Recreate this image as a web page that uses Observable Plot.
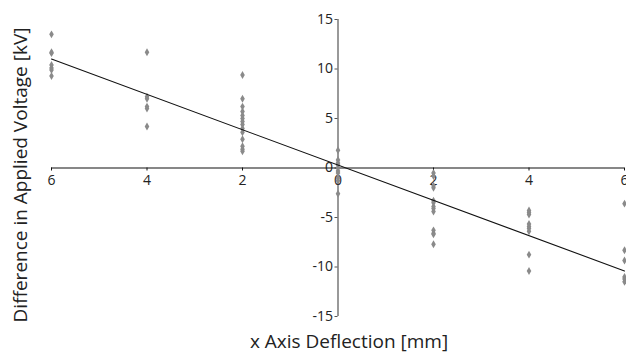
<!DOCTYPE html>
<html>
<head>
<meta charset="utf-8">
<script src="https://cdn.jsdelivr.net/npm/d3@7"></script>
<script src="https://cdn.jsdelivr.net/npm/@observablehq/plot@0.6"></script>
<style>
  html, body { margin: 0; padding: 0; background: #fff; }
  #chart svg { display: block; }
</style>
</head>
<body>
<div id="chart"></div>
<script>
// Data
const deflections = [-6, -4, -2, 0, 2, 4, 6];
const voltM6 = [13.5, 11.7, 11.6, 10.4, 10.1, 9.9, 9.3];
const voltM4 = [11.7, 7.2, 7.0, 6.2, 6.0, 4.2];
const voltM2 = [9.4, 7.0, 6.2, 5.7, 5.3, 5.0, 4.7, 4.4, 4.0, 3.6, 2.9, 2.2, 1.9, 1.7];
const volt0 = [1.8, 0.8, 0.5, 0.3, 0.0, -0.3, -0.5, -1.0, -1.3, -2.6];
const voltP2 = [-0.5, -0.8, -1.8, -2.0, -3.3, -3.5, -3.9, -4.1, -4.4, -6.3, -6.6, -6.7, -7.7];
const voltP4 = [-4.3, -4.5, -4.7, -5.65, -5.9, -6.1, -6.4, -8.75, -10.4];
const voltP6 = [-3.6, -8.3, -9.35, -11.0, -11.2, -11.5];
const fitX = [-6, 6];
const fitY = [11.0, -10.4];
const xTicks = [-6, -4, -2, 0, 2, 4, 6];
const yTicks = [-15, -10, -5, 0, 5, 10, 15];
const xTitle = "x Axis Deflection [mm]";
const yTitle = "Difference in Applied Voltage [kV]";

const groups = [voltM6, voltM4, voltM2, volt0, voltP2, voltP4, voltP6];
const points = groups.flatMap((vals, i) => vals.map(v => ({x: deflections[i], y: v})));
const fit = fitX.map((x, i) => ({x, y: fitY[i]}));

const font = "Open Sans, sans-serif";

const chart = Plot.plot({
  width: 626,
  height: 353,
  marginLeft: 51,
  marginRight: 2,
  marginTop: 19,
  marginBottom: 37,
  style: {fontFamily: font, background: "#fff"},
  x: {domain: [-6, 6], axis: null},
  y: {domain: [-15, 15], axis: null},
  marks: [
    // y axis line and ticks at x = 0
    Plot.ruleX([0], {y1: -15, y2: 15, stroke: "#555", strokeWidth: 1.2}),
    Plot.ruleY(yTicks, {y: d => d, x1: 0, x2: 0, insetLeft: -3, stroke: "#555"}),
    Plot.text(yTicks, {x: 0, y: d => d, text: d => String(d), textAnchor: "end", dx: -5, fontSize: 14, fill: "#222"}),
    // x axis line and ticks at y = 0
    Plot.ruleY([0], {x1: -6, x2: 6, stroke: "#111", strokeWidth: 1.2}),
    Plot.ruleX(xTicks, {x: d => d, y1: 0, y2: 0, insetBottom: -3, stroke: "#111"}),
    Plot.text(xTicks, {x: d => d, y: 0, text: d => String(Math.abs(d)), dy: 13, fontSize: 14, fill: "#222"}),
    // data
    Plot.dot(points, {x: "x", y: "y", symbol: "diamond", r: 2.4, fill: "#8a8a8a", stroke: "none"}),
    Plot.line(fit, {x: "x", y: "y", stroke: "#111", strokeWidth: 1.1}),
    // titles
    Plot.text([xTitle], {frameAnchor: "bottom", text: d => d, textAnchor: "middle", dx: 11, dy: 31, fontSize: 19, fill: "#222"}),
    Plot.text([yTitle], {frameAnchor: "left", text: d => d, textAnchor: "middle", lineAnchor: "middle", rotate: -90, dx: -31, dy: 7, fontSize: 19, fill: "#222"})
  ]
});
document.getElementById("chart").append(chart);
</script>
</body>
</html>
